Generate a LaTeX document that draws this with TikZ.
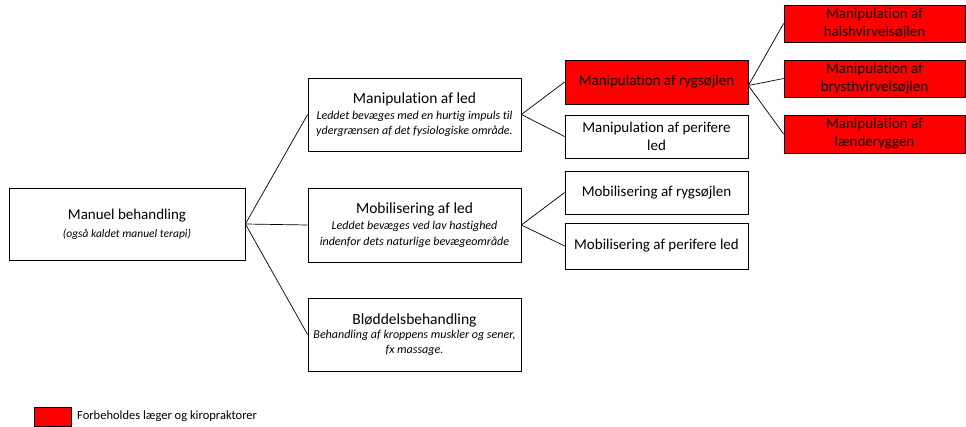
\documentclass[tikz,border=0pt]{standalone}
\usepackage{fontspec}
\setmainfont{Carlito}[Ligatures=NoCommon]
\begin{document}
\begin{tikzpicture}[x=1pt,y=-1pt,
  box/.style={draw=black,line width=0.75pt,fill=white,rectangle,inner sep=0pt,align=center,text=black,
    font=\fontsize{11.5}{15}\selectfont},
  midbox/.style={box,font=\fontsize{12}{15.5}\selectfont},
  redbox/.style={box,fill=red,font=\fontsize{15}{18}\selectfont},
  plain/.style={box,font=\fontsize{15}{18}\selectfont},
  conn/.style={draw=black,line width=0.7pt}]
\useasboundingbox (0,0) rectangle (966,427);
\newcommand{\ttl}[1]{{\fontsize{15}{18}\selectfont #1}}
\newcommand{\mttl}[1]{{\fontsize{15.5}{18}\selectfont #1}}
% level 1
\node[box,minimum width=236,minimum height=72] (mb) at (127,224)
  {\ttl{Manuel behandling}\\[3pt]\textit{(også kaldet manuel terapi)}};
% level 2
\node[midbox,minimum width=213,minimum height=73] (ml) at (414.5,114.5)
  {\mttl{Manipulation af led}\\[0.5pt]\textit{Leddet bevæges med en hurtig impuls til}\\\textit{ydergrænsen af det fysiologiske område.}};
\node[midbox,minimum width=213,minimum height=74] (mo) at (414.5,225)
  {\mttl{Mobilisering af led}\\[0.5pt]\textit{Leddet bevæges ved lav hastighed}\\\textit{indenfor dets naturlige bevægeområde}};
\node[midbox,minimum width=213,minimum height=73] (bl) at (414.5,334.5)
  {\mttl{Bløddelsbehandling}\\[-1pt]\textit{Behandling af kroppens muskler og sener,}\\[-1pt]\textit{fx massage.}};
% level 3
\node[redbox,minimum width=183,minimum height=44] (ryg) at (656.5,82) {Manipulation af rygsøjlen};
\node[plain,minimum width=183,minimum height=43] (per) at (656.5,136.5) {Manipulation af perifere\\led};
\node[plain,minimum width=183,minimum height=43] (mry) at (656.5,192.5) {Mobilisering af rygsøjlen};
\node[plain,minimum width=183,minimum height=46] (mpe) at (656.5,246) {Mobilisering af perifere led};
% level 4
\node[redbox,minimum width=181,minimum height=37] (r1) at (874.5,23.5) {Manipulation af\\halshvirvelsøjlen};
\node[redbox,minimum width=181,minimum height=37] (r2) at (874.5,78.5) {Manipulation af\\brysthvirvelsøjlen};
\node[redbox,minimum width=181,minimum height=38] (r3) at (874.5,134) {Manipulation af\\lænderyggen};
% connectors
\coordinate (mbj) at (mb.east);
\coordinate (mlj) at (ml.east);
\coordinate (moj) at (mo.east);
\coordinate (rygj) at ([yshift=-3.5]ryg.east);
\draw[conn] (mbj) -- (ml.west);
\draw[conn] (mbj) -- (mo.west);
\draw[conn] (mbj) -- (bl.west);
\draw[conn] (mlj) -- (ryg.west);
\draw[conn] (mlj) -- (per.west);
\draw[conn] (moj) -- (mry.west);
\draw[conn] (moj) -- (mpe.west);
\draw[conn] (rygj) -- (r1.west);
\draw[conn] (rygj) -- (r2.west);
\draw[conn] (rygj) -- (r3.west);
% legend
\node[box,fill=red,minimum width=37,minimum height=19] (leg) at (52.5,416.5) {};
\node[anchor=west,inner sep=0pt,font=\fontsize{12.5}{15}\selectfont] (legtxt) at (77,416.5) {Forbeholdes læger og kiropraktorer};
\end{tikzpicture}
\end{document}
